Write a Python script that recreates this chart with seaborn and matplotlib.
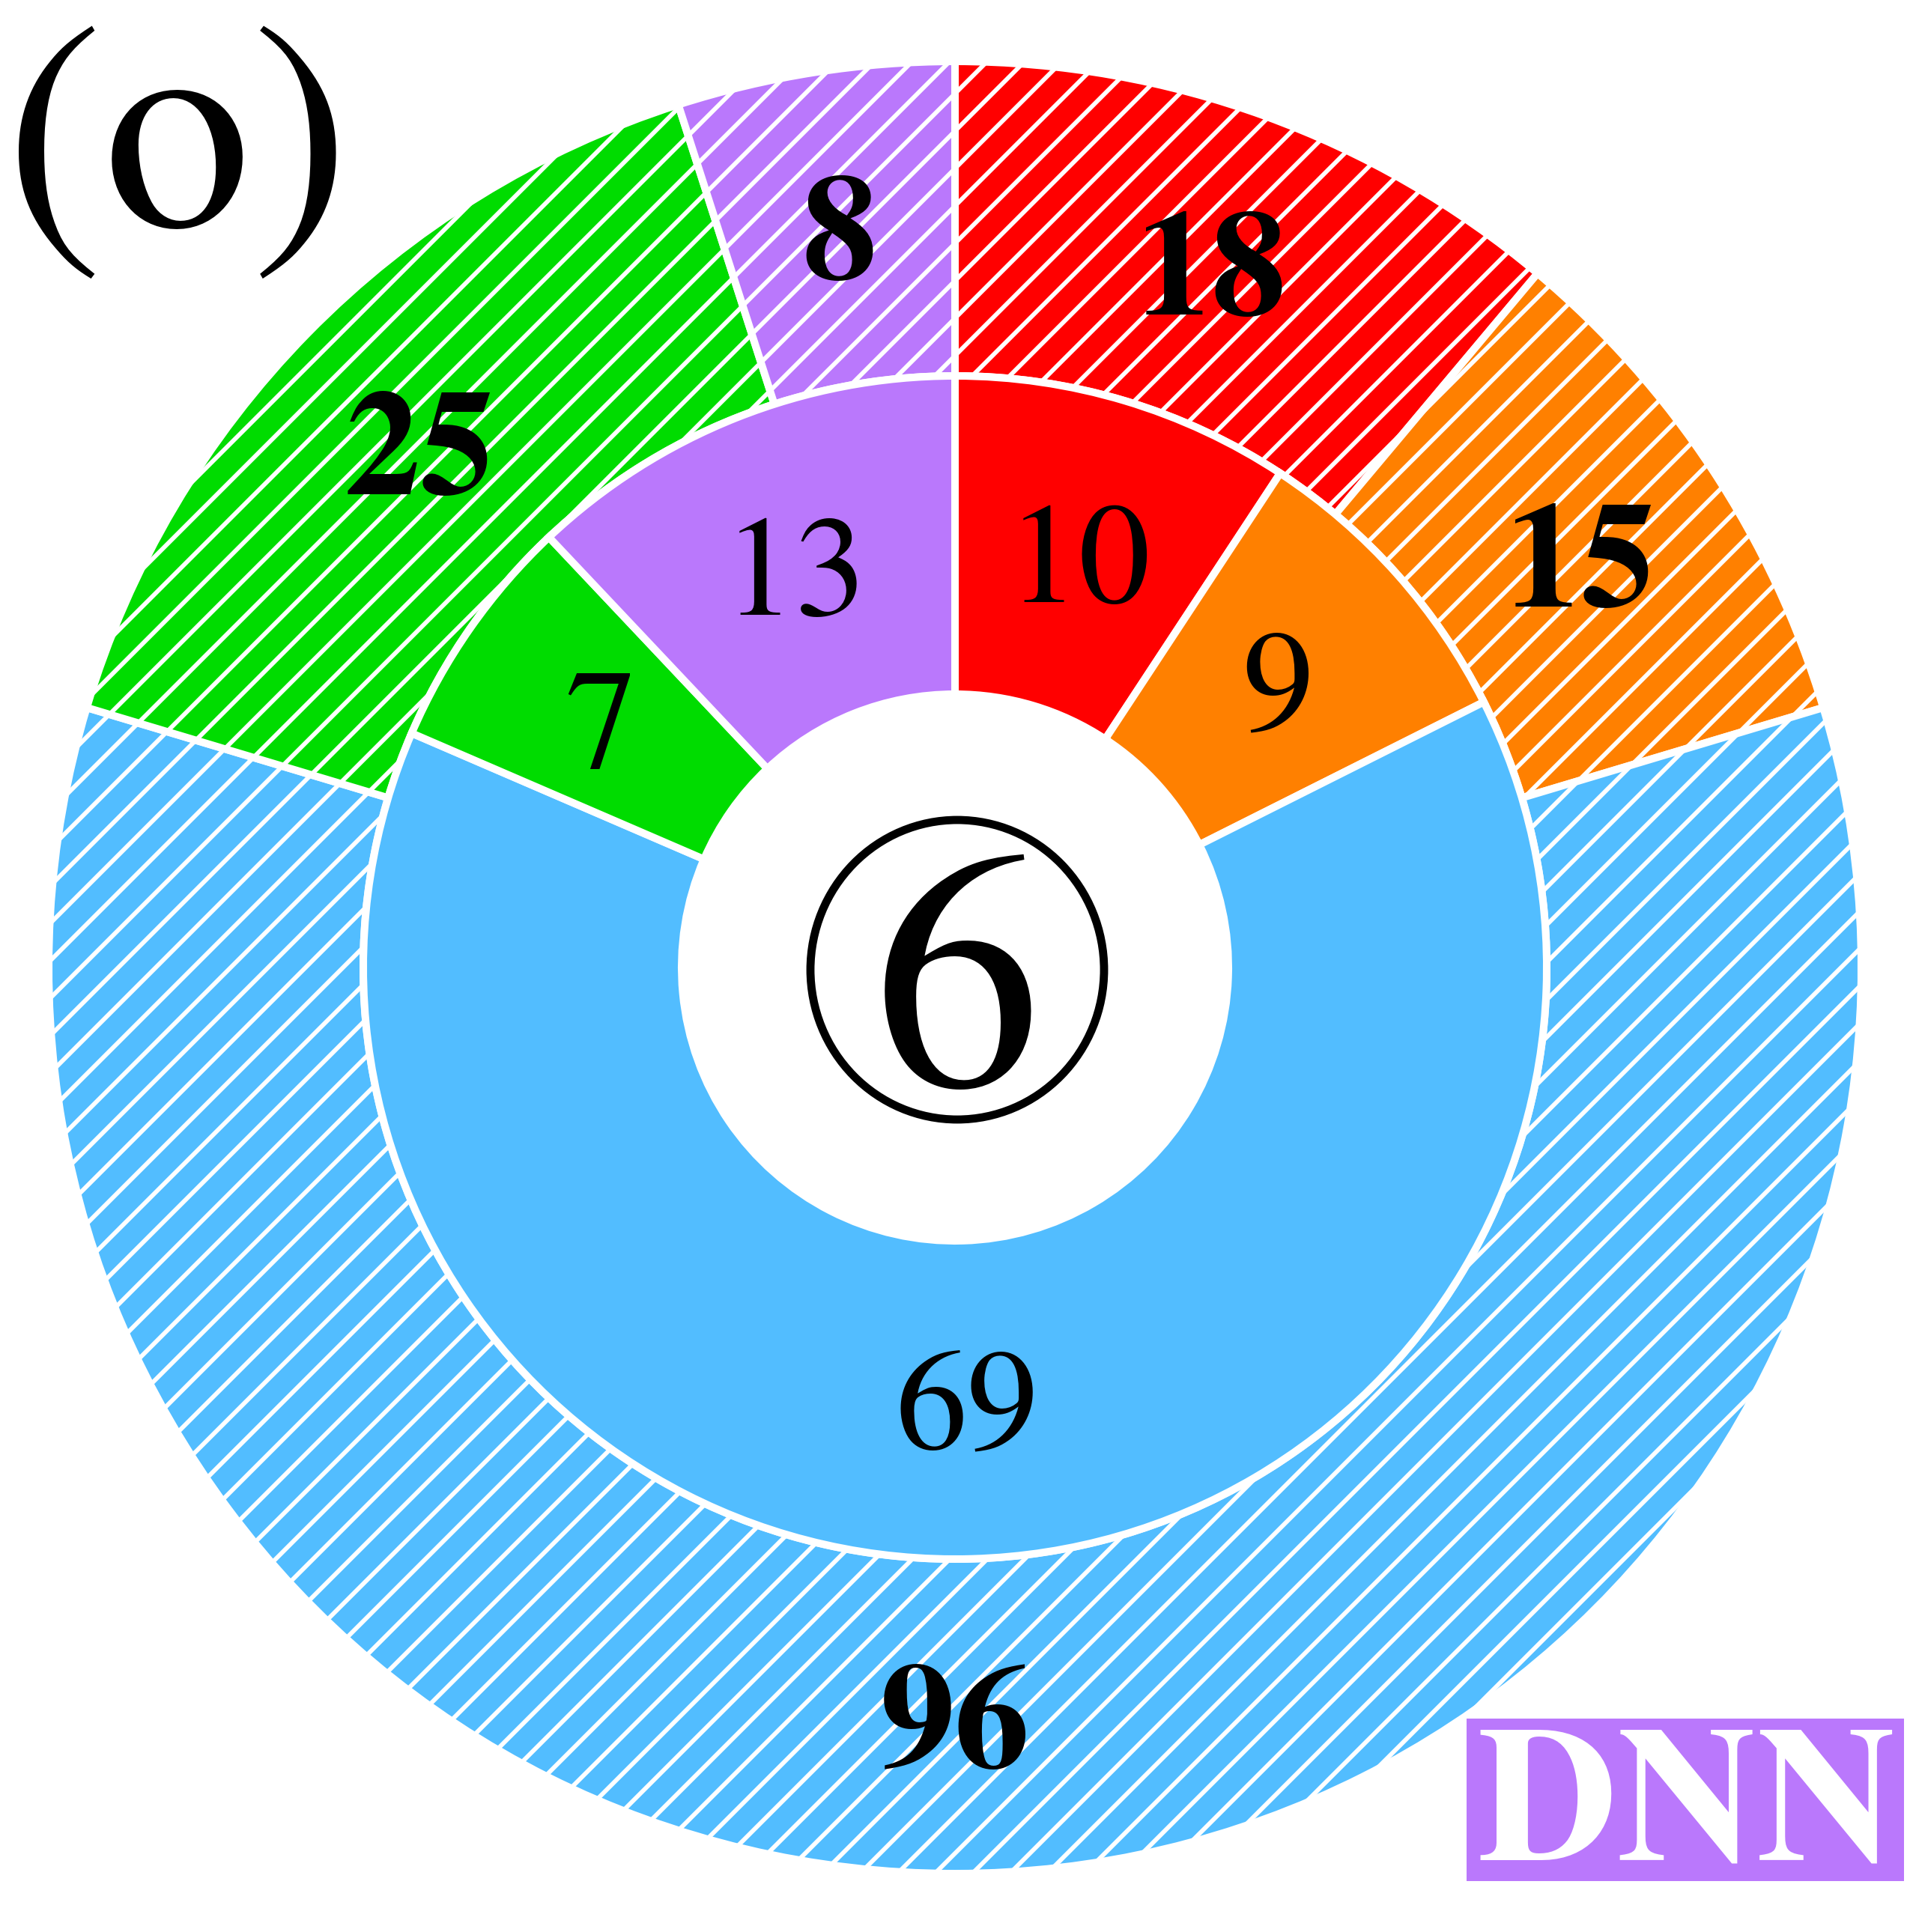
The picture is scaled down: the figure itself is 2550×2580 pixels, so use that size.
import matplotlib
matplotlib.use("Agg")
import matplotlib.pyplot as plt
import seaborn as sns
from matplotlib.patches import Ellipse, Rectangle
import numpy as np

# categories go clockwise from 12 o'clock
groups = ["red", "orange", "blue", "green", "purple"]
outer_values = [18, 15, 96, 25, 8]
inner_values = [10, 9, 69, 7, 13]
center_label = "6"
panel_label = "(o)"
model_label = "DNN"

palette = sns.color_palette(["#FF0000", "#FF8000", "#52BDFF", "#00DC00", "#BA78FC"])

sns.set_theme(style="white")
plt.rcParams['font.family'] = ['TeX Gyre Termes', 'STIXGeneral', 'DejaVu Serif']
plt.rcParams['hatch.linewidth'] = 1.4

DPI = 300
W, H = 2550, 2580
fig = plt.figure(figsize=(W / DPI, H / DPI), dpi=DPI)
ax = fig.add_axes([0, 0, 1, 1])

cx, cy = 1275, 1288
r_out, r_mid, r_in = 1210, 790, 365

# outer ring (hatched)
outer_wedges, _ = ax.pie(outer_values, radius=r_out, center=(cx, cy), colors=palette,
                         startangle=90, counterclock=False,
                         wedgeprops=dict(width=r_out - r_mid, edgecolor='white',
                                         linewidth=2.4, hatch='//'))
# inner ring (solid)
inner_wedges, _ = ax.pie(inner_values, radius=r_mid, center=(cx, cy), colors=palette,
                         startangle=90, counterclock=False,
                         wedgeprops=dict(width=r_mid - r_in, edgecolor='white', linewidth=2.4))


def put_labels(wedges, values, **kw):
    for w, v in zip(wedges, values):
        ang = np.deg2rad((w.theta1 + w.theta2) / 2)
        rr = w.r - w.width / 2
        ax.text(w.center[0] + rr * np.cos(ang), w.center[1] + rr * np.sin(ang), str(v),
                ha='center', va='center_baseline', color='black', **kw)


put_labels(outer_wedges, outer_values, fontsize=48, fontweight='bold')
put_labels(inner_wedges, inner_values, fontsize=46)

# circled number in the middle
ax.add_patch(Ellipse((cx + 3, cy - 3), 392, 400, facecolor='white', edgecolor='black', lw=2.6))
ax.text(cx + 3, cy - 3, center_label, ha='center', va='center_baseline',
        fontsize=108, color='black')

ax.text(237, 2278, panel_label, ha='center', va='baseline', fontsize=95, color='black')

# model tag
ax.add_patch(Rectangle((1958, 68), 584, 217, facecolor=palette[4], edgecolor='none'))
ax.text(2252, 96, model_label, ha='center', va='baseline', fontsize=62,
        fontweight='bold', color='white')

ax.set_xlim(0, W)
ax.set_ylim(0, H)
ax.set_aspect('equal')
ax.axis('off')

fig.savefig("out.png", dpi=DPI)
